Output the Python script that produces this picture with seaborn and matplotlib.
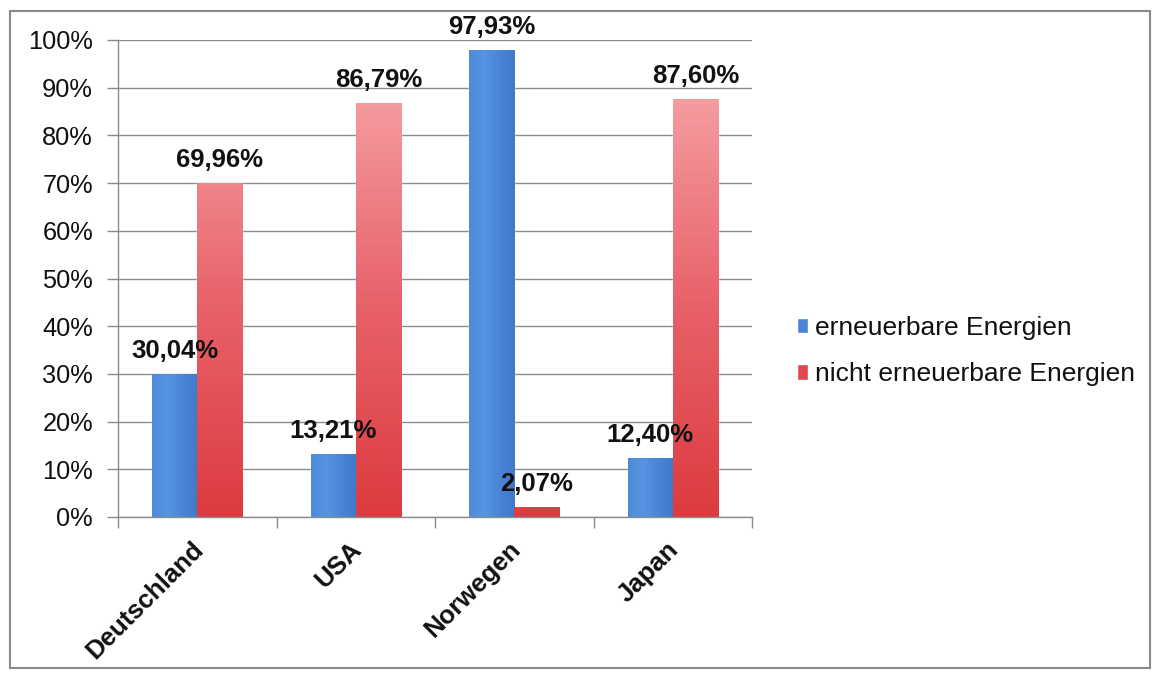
import numpy as np
import pandas as pd
import matplotlib
matplotlib.use("Agg")
import matplotlib.pyplot as plt
import matplotlib.colors as mcolors
import matplotlib.transforms as mtransforms
from matplotlib.patches import Rectangle
import seaborn as sns

countries = ["Deutschland", "USA", "Norwegen", "Japan"]
renewable = [30.04, 13.21, 97.93, 12.40]
nonrenewable = [69.96, 86.79, 2.07, 87.60]
series_names = ["erneuerbare Energien", "nicht erneuerbare Energien"]
yticks = [0, 10, 20, 30, 40, 50, 60, 70, 80, 90, 100]

df = pd.DataFrame({
    "Land": countries * 2,
    "Wert": renewable + nonrenewable,
    "Serie": [series_names[0]] * len(countries) + [series_names[1]] * len(countries),
})

sns.set_theme(style="white")
plt.rcParams["font.family"] = ["Liberation Sans", "DejaVu Sans"]
plt.rcParams["text.color"] = "#111111"
plt.rcParams["xtick.color"] = "#111111"
plt.rcParams["ytick.color"] = "#111111"

blue = "#4a84d6"
red = "#e2474f"

fig = plt.figure(figsize=(11.6, 6.79), dpi=100)
ax = fig.add_axes([118 / 1160, 1 - 517 / 679, (752 - 118) / 1160, (517 - 40) / 679])

sns.barplot(data=df, x="Land", y="Wert", hue="Serie", order=countries,
            hue_order=series_names, palette=[blue, red], width=0.57,
            saturation=1, ax=ax, errorbar=None, legend=True)

ax.set_ylim(0, 100)
ax.set_xlim(-0.5, len(countries) - 0.5)
ax.set_yticks(yticks)
ax.set_yticklabels([f"{v}%" for v in yticks], fontsize=18.3, color="#111111")
ax.set_xlabel("")
ax.set_ylabel("")

# gridlines
ax.yaxis.grid(True, color="#8c8c8c", linewidth=1.0)
ax.set_axisbelow(True)
for s in ["top", "right"]:
    ax.spines[s].set_visible(False)
for s in ["left", "bottom"]:
    ax.spines[s].set_color("#8c8c8c")
    ax.spines[s].set_linewidth(1.0)

ax.tick_params(axis="y", which="major", length=8, color="#8c8c8c", width=1.0, pad=10, left=True)
ax.set_xticks(range(len(countries)))
ax.set_xticks(np.arange(-0.5, len(countries)), minor=True)
ax.tick_params(axis="x", which="major", length=0, pad=6)
ax.tick_params(axis="x", which="minor", length=8, color="#8c8c8c", width=1.0, bottom=True)
ax.set_xticklabels(countries, rotation=45, ha="right", va="top",
                   rotation_mode="anchor", fontsize=18.5, fontweight="bold", color="#111111")
for lbl in ax.get_xticklabels():
    lbl.set_transform(lbl.get_transform() + mtransforms.ScaledTranslation(-6 / 100, -12 / 100, fig.dpi_scale_trans))

# gradient fills
blue_cmap = mcolors.LinearSegmentedColormap.from_list("b", ["#4f8ad9", "#5594e2", "#4a84d6", "#4179ca"])
red_cmap = mcolors.LinearSegmentedColormap.from_list("r", ["#dc3c40", "#e8626a", "#f59ea2"])
for ci, cont in enumerate(ax.containers):
    for p in cont.patches:
        x0, y0 = p.get_x(), p.get_y()
        w, h = p.get_width(), p.get_height()
        if h <= 0:
            continue
        if ci == 0:
            grad = np.linspace(0, 1, 64).reshape(1, -1)
            cmap = blue_cmap
        else:
            grad = np.linspace(0, 1, 64).reshape(-1, 1) * (h / 90.0 if h > 10 else 0.05)
            cmap = red_cmap
        im = ax.imshow(grad, extent=[x0, x0 + w, y0, y0 + h], cmap=cmap, vmin=0, vmax=1,
                       aspect="auto", origin="lower", zorder=p.get_zorder() + 0.1)
        im.set_clip_path(p)

# data labels
for ci, cont in enumerate(ax.containers):
    vals = renewable if ci == 0 else nonrenewable
    ax.bar_label(cont, labels=[f"{v:.2f}".replace(".", ",") + "%" for v in vals],
                 padding=8, fontsize=18.5, fontweight="bold", color="#111111", zorder=5)

ax.set_xlim(-0.5, len(countries) - 0.5)
ax.set_ylim(0, 100)

# legend
handles, labels = ax.get_legend_handles_labels()
leg = ax.legend(handles, labels, loc="center left", bbox_to_anchor=(797 / 1160, 1 - 351 / 679),
                bbox_transform=fig.transFigure, frameon=False, fontsize=19,
                borderaxespad=0, borderpad=0,
                handlelength=0.4, handleheight=0.55, handletextpad=0.3, labelspacing=0.85)
for t in leg.get_texts():
    t.set_color("#111111")

# outer border
fig.patches.append(Rectangle((10 / 1160, 1 - 668 / 679), 1140 / 1160, (668 - 11) / 679,
                             transform=fig.transFigure, fill=False,
                             edgecolor="#8a8a8a", linewidth=1.5))

fig.savefig("out.png", dpi=100)
